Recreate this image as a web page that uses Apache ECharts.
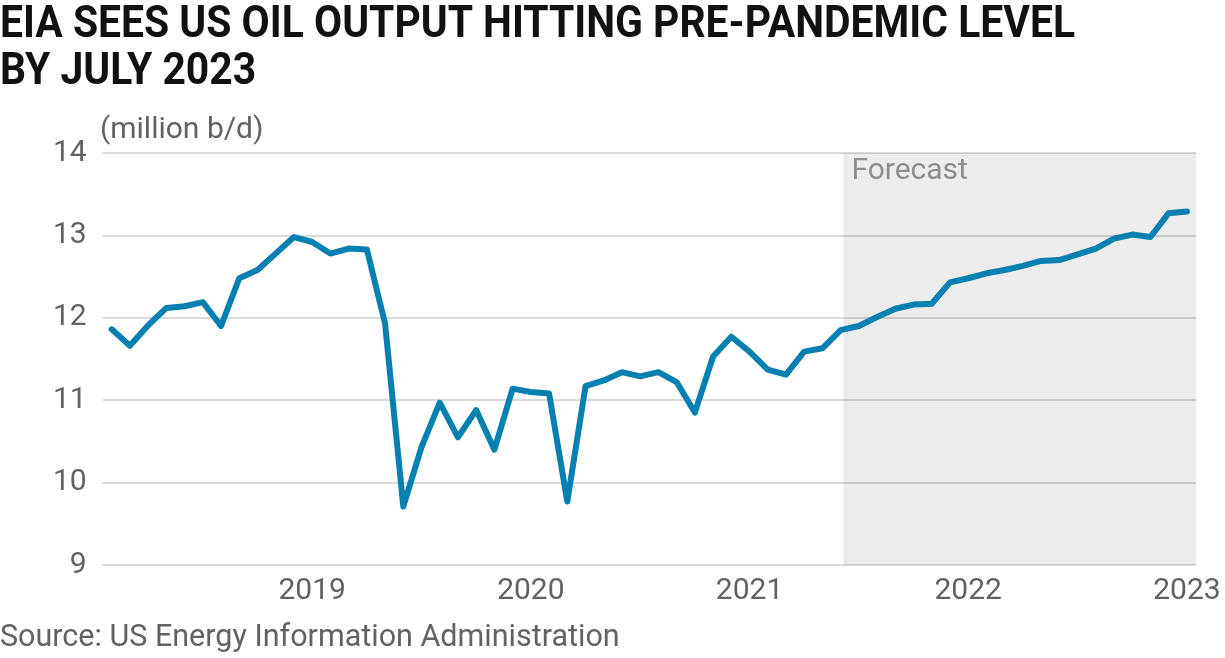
<!DOCTYPE html>
<html>
<head>
<meta charset="utf-8">
<script src="https://cdn.jsdelivr.net/npm/echarts@6/dist/echarts.min.js"></script>
<style>
html,body{margin:0;padding:0;background:#fff;}
#main{width:1225px;height:658px;}
</style>
</head>
<body>
<div id="main"></div>
<script>
// Monthly US crude output, Jan 2019 - Dec 2023 (million b/d)
const months = [
 '2019-01','2019-02','2019-03','2019-04','2019-05','2019-06','2019-07','2019-08','2019-09','2019-10','2019-11','2019-12',
 '2020-01','2020-02','2020-03','2020-04','2020-05','2020-06','2020-07','2020-08','2020-09','2020-10','2020-11','2020-12',
 '2021-01','2021-02','2021-03','2021-04','2021-05','2021-06','2021-07','2021-08','2021-09','2021-10','2021-11','2021-12',
 '2022-01','2022-02','2022-03','2022-04','2022-05','2022-06','2022-07','2022-08','2022-09','2022-10','2022-11','2022-12',
 '2023-01','2023-02','2023-03','2023-04','2023-05','2023-06','2023-07','2023-08','2023-09','2023-10','2023-11','2023-12'
];
const output = [
 11.86,11.66,11.91,12.12,12.14,12.19,11.90,12.48,12.58,12.78,12.98,12.92,
 12.78,12.84,12.83,11.93,9.71,10.43,10.97,10.55,10.88,10.40,11.14,11.10,
 11.08,9.77,11.17,11.24,11.34,11.29,11.34,11.22,10.85,11.53,11.77,11.59,
 11.37,11.31,11.59,11.63,11.85,11.90,12.01,12.11,12.16,12.17,12.43,12.48,
 12.54,12.58,12.63,12.69,12.70,12.77,12.84,12.96,13.01,12.98,13.27,13.29
];
const yearLabelIdx = [11,23,35,47,59];
const yearLabels = ['2019','2020','2021','2022','2023'];
const forecastStart = 40.15; // month index where forecast shading begins
const yTicks = [9,10,11,12,13,14];
const titleLines = ['EIA SEES US OIL OUTPUT HITTING PRE-PANDEMIC LEVEL','BY JULY 2023'];

const chart = echarts.init(document.getElementById('main'));
const txt = '#626262';
const ff = 'Roboto';

// horizontal squeeze so the bold title matches the condensed original
const ctx = document.createElement('canvas').getContext('2d');
const titleSize = 44;
ctx.font = 'bold ' + titleSize + 'px Roboto';
const titleScale = 1075 / ctx.measureText(titleLines[0]).width;

chart.setOption({
  animation:false,
  backgroundColor:'#fff',
  graphic:[
    {type:'text',left:0,top:2,scaleX:titleScale,originX:0,
     style:{text:titleLines.join('\n'),fontFamily:ff,fontWeight:'bold',fontSize:titleSize,lineHeight:47,fill:'#111'}},
    {type:'text',left:100,top:115,style:{text:'(million b/d)',fontFamily:ff,fontSize:30,fill:txt}},
    {type:'text',left:0,top:623,style:{text:'Source: US Energy Information Administration',fontFamily:ff,fontSize:30.5,fill:txt}}
  ],
  grid:{left:102.6,right:29,top:153,bottom:93,containLabel:false},
  xAxis:{
    type:'value',min:-0.5,max:59.5,
    axisLine:{show:false},axisTick:{show:false},splitLine:{show:false},
    axisLabel:{
      customValues:yearLabelIdx,
      formatter:function(v){const i=yearLabelIdx.indexOf(Math.round(v));return i>=0?yearLabels[i]:'';},
      fontFamily:ff,fontSize:30,color:txt,margin:11
    }
  },
  yAxis:{
    type:'value',min:9,max:14,interval:1,
    axisLine:{show:false},axisTick:{show:false},
    splitLine:{lineStyle:{color:'#dadada',width:2}},
    axisLabel:{fontFamily:ff,fontSize:30,color:txt,margin:16}
  },
  series:[{
    type:'line',
    data:output.map((v,i)=>[i,v]),
    symbol:'none',
    lineStyle:{color:'#0580b0',width:6,join:'round',cap:'round'},
    markArea:{
      silent:true,
      itemStyle:{color:'rgba(0,0,0,0.075)'},
      label:{show:false},
      data:[[{xAxis:forecastStart,yAxis:yTicks[yTicks.length-1]},{xAxis:59.5,yAxis:yTicks[0]}]]
    }
  }]
});

const fp = chart.convertToPixel({gridIndex:0},[forecastStart,yTicks[yTicks.length-1]]);
chart.setOption({graphic:[
  {},{},{},
  {type:'text',left:fp[0]+8,top:fp[1]+3,style:{text:'Forecast',fontFamily:ff,fontSize:30,fill:'#9a9a9a'}}
]});
</script>
</body>
</html>
